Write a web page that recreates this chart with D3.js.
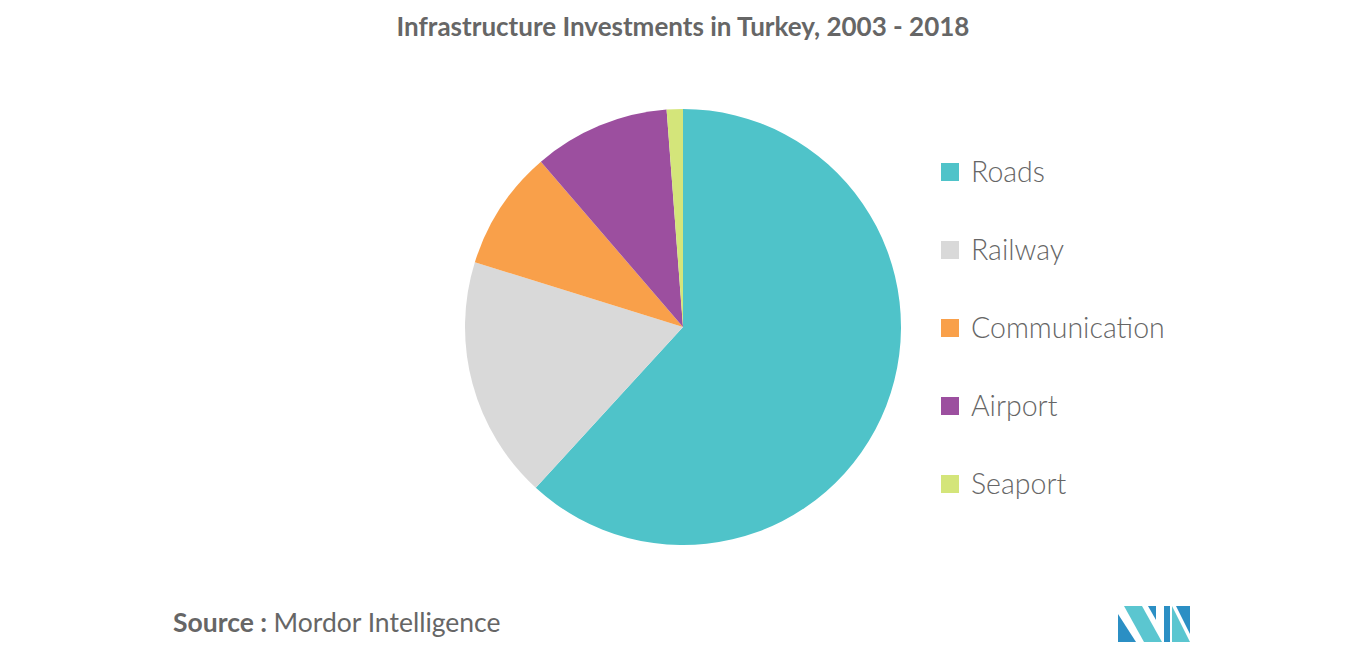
<!DOCTYPE html>
<html><head><meta charset="utf-8">
<script src="https://cdn.jsdelivr.net/npm/d3@7"></script>
<style>body{margin:0;background:#fff;font-family:Lato,"Open Sans",sans-serif}</style>
</head><body><svg id="c" width="1366" height="655"></svg>
<script>
const categories = ["Roads", "Railway", "Communication", "Airport", "Seaport"];
const values = [61.8, 18.0, 8.9, 10.1, 1.2];
const colors = ["#4FC3C9", "#D9D9D9", "#F9A04A", "#9C4F9F", "#D4E57A"];

const svg = d3.select("#c");
svg.append("text").attr("x", 683).attr("y", 36).attr("text-anchor", "middle")
  .attr("font-size", 26).attr("font-weight", 700).attr("fill", "#666")
  .text("Infrastructure Investments in Turkey, 2003 - 2018");

const pie = d3.pie().sort(null).value(d => d)(values);
const arc = d3.arc().innerRadius(0).outerRadius(218);
svg.append("g").attr("transform", "translate(683,327)")
  .selectAll("path").data(pie).join("path")
  .attr("d", arc).attr("fill", (d, i) => colors[i]);

const y = d3.scalePoint().domain(categories).range([172, 484]);
const lg = svg.append("g").selectAll("g").data(categories).join("g")
  .attr("transform", d => `translate(941,${y(d)})`);
lg.append("rect").attr("y", -9).attr("width", 18).attr("height", 18)
  .attr("fill", (d, i) => colors[i]);
lg.append("text").attr("x", 30).attr("dy", "0.35em").attr("font-size", 28.5)
  .attr("font-weight", 300).attr("fill", "#666").text(d => d);

const src = svg.append("text").attr("x", 173).attr("y", 632).attr("font-size", 26.5).attr("fill", "#666");
src.append("tspan").attr("font-weight", 700).text("Source : ");
src.append("tspan").text("Mordor Intelligence");

const logo = svg.append("g").attr("transform", "translate(1118,606)");
logo.append("path").attr("d", "M0,36 L0,8 L18,36 Z").attr("fill", "#2B8FC4");
logo.append("path").attr("d", "M6,0 L24,0 L44,36 L26,36 Z").attr("fill", "#5BC6D0");
logo.append("path").attr("d", "M30,0 L38,0 L38,14 Z").attr("fill", "#2B8FC4");
logo.append("path").attr("d", "M46,0 L52,0 L52,36 L46,36 Z").attr("fill", "#2B8FC4");
logo.append("path").attr("d", "M54,0 L72,36 L54,36 Z").attr("fill", "#5BC6D0");
logo.append("path").attr("d", "M58,0 L72,0 L72,28 Z").attr("fill", "#2B8FC4");
</script></body></html>
